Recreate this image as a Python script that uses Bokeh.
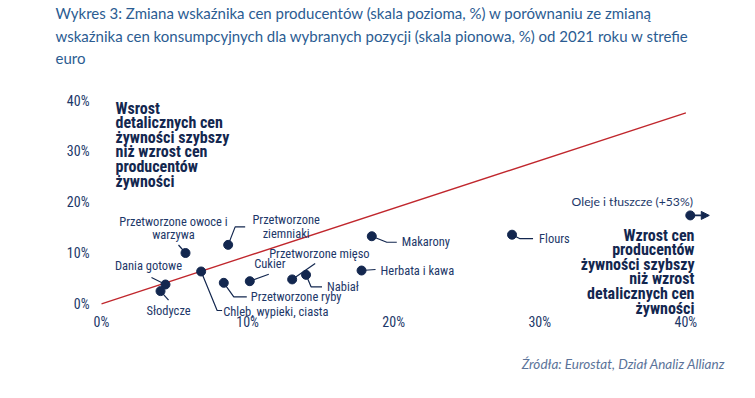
from bokeh.plotting import figure
from bokeh.layouts import column
from bokeh.models import ColumnDataSource, FixedTicker, Arrow, NormalHead
from bokeh.core.properties import value
from bokeh.embed import file_html
from bokeh.resources import INLINE

# ---------------- data ----------------
categories = ["Przetworzone owoce i warzywa", "Przetworzone ziemniaki", "Dania gotowe",
              "Słodycze", "Chleb, wypieki, ciasta", "Przetworzone ryby", "Cukier",
              "Przetworzone mięso", "Nabiał", "Makarony", "Herbata i kawa", "Flours",
              "Oleje i tłuszcze (+53%)"]
display_labels = ["Przetworzone owoce i\nwarzywa", "Przetworzone\nziemniaki", "Dania gotowe",
                  "Słodycze", "Chleb, wypieki, ciasta", "Przetworzone ryby", "Cukier",
                  "Przetworzone mięso", "Nabiał", "Makarony", "Herbata i kawa", "Flours",
                  "Oleje i tłuszcze (+53%)"]
producer_change = [5.75, 8.67, 4.38, 4.04, 6.82, 8.37, 10.15, 13.05, 14.0, 18.5, 17.8, 28.1, 40.3]
consumer_change = [10.0, 11.6, 3.8, 2.5, 6.36, 4.13, 4.45, 4.8, 5.7, 13.3, 6.55, 13.6, 17.4]

x_tick_values = [0, 10, 20, 30, 40]
x_tick_labels = ["0%", "10%", "20%", "30%", "40%"]
y_tick_values = [0, 10, 20, 30, 40]
y_tick_labels = ["0%", "10%", "20%", "30%", "40%"]

ref_line_x = [0, 40]
ref_line_y = [0, 37.6]

title_lines = ["Wykres 3: Zmiana wskaźnika cen producentów (skala pozioma, %) w porównaniu ze zmianą",
               "wskaźnika cen konsumpcyjnych dla wybranych pozycji (skala pionowa, %) od 2021 roku w strefie",
               "euro"]
source_text = "Źródła: Eurostat, Dział Analiz Allianz"
note_left = "Wsrost\ndetalicznych cen\nżywności szybszy\nniż wzrost cen\nproducentów\nżywności"
note_right = "Wzrost cen\nproducentów\nżywności szybszy\nniż wzrost\ndetalicznych cen\nżywności"

# ---------------- layout / style ----------------
NAVY = "#13274f"
TEXT = "#1d3869"
RED = "#c0272d"
TITLE_C = "#2b5c92"
NARROW = "'Roboto Condensed', 'Liberation Sans Narrow', Roboto, sans-serif"

W, H = 739, 382
TOP = 88            # title strip height
FRAME_H = 230       # chart frame height
MB = 22             # room for the x tick labels
BOT = H - TOP - FRAME_H - MB   # source strip height
ML, MR = 50, 5
PX_X = 14.61   # pixels per 1 % on x
PX_Y = 5.08    # pixels per 1 % on y
ZX, ZY = 101, 303.3   # page pixel position of the 0 % ticks
x0 = (ML - ZX) / PX_X
x1 = x0 + (W - ML - MR) / PX_X
y0 = -((TOP + FRAME_H) - ZY) / PX_Y
y1 = y0 + FRAME_H / PX_Y


def dx_(px):
    return (px - ZX) / PX_X


def dy_(py):
    return (ZY - py) / PX_Y


# label offsets in screen px (dx right, dy down), alignment, leader polyline offsets
label_dx = [-12, 58, -17, 8, 22, 27, 20, -23, 21, 30, 19, 27, -58]
label_dy = [-25, -18, -19, 19, 40, 14, -18, -26, 12, 5, 0, 4, -14]
label_align = ["center", "center", "center", "center", "left", "left", "center", "left",
               "left", "left", "left", "left", "center"]
leaders = [
    [(0, 0), (-7, -8)],
    [(0, 0), (7, -18), (17, -18)],
    [(0, 0), (-14, -7)],
    [(0, 0), (8, 9)],
    [(0, 0), (16, 39), (21, 39)],
    [(0, 0), (10, 14), (23, 14)],
    [(0, 0), (19, -7)],
    [(0, 0), (23, -16)],
    [(0, 0), (5, 12), (16, 12)],
    [(0, 0), (15, 6), (25, 6)],
    [(0, 0), (14, -1)],
    [(0, 0), (8, 4), (21, 4)],
    None,
]


def strip(height):
    f = figure(width=W, height=height, output_backend="svg", toolbar_location=None,
               x_range=(ML, W - MR), y_range=(height, 0),
               x_axis_location=None, y_axis_location=None,
               min_border_left=ML, min_border_right=MR, min_border_top=0, min_border_bottom=0)
    f.outline_line_color = None
    f.grid.visible = False
    return f


# ---------------- title strip ----------------
tf = strip(TOP)
tf.text(x=[55] * len(title_lines), y=[12.5 + 22.5 * i for i in range(len(title_lines))],
        text=title_lines, text_align="left", text_baseline="middle",
        text_font=value("Lato"), text_font_size="15px", text_color=TITLE_C)

# ---------------- main chart ----------------
p = figure(width=W, height=FRAME_H + MB, output_backend="svg", toolbar_location=None,
           x_range=(x0, x1), y_range=(y0, y1),
           min_border_left=ML, min_border_right=MR, min_border_top=0, min_border_bottom=MB)
p.outline_line_color = None
p.grid.visible = False
p.background_fill_color = "white"
p.border_fill_color = "white"

for ax, vals, labs in ((p.xaxis[0], x_tick_values, x_tick_labels),
                       (p.yaxis[0], y_tick_values, y_tick_labels)):
    ax.ticker = FixedTicker(ticks=vals)
    ax.major_label_overrides = {v: l for v, l in zip(vals, labs)}
    ax.axis_line_color = None
    ax.major_tick_line_color = None
    ax.minor_tick_line_color = None
    ax.major_tick_out = 0
    ax.major_tick_in = 0
    ax.major_label_text_font = NARROW
    ax.major_label_text_font_size = "14px"
    ax.major_label_text_color = TEXT
p.yaxis[0].major_label_standoff = ML - 89
p.xaxis[0].major_label_standoff = -5

# reference line
p.line(ref_line_x, ref_line_y, line_color=RED, line_width=1.4)

# leader lines
lx, ly = [], []
for xv, yv, ld in zip(producer_change, consumer_change, leaders):
    if ld is None:
        continue
    lx.append([xv + dx / PX_X for dx, dy in ld])
    ly.append([yv - dy / PX_Y for dx, dy in ld])
p.multi_line(lx, ly, line_color=NAVY, line_width=1.2)

# arrow for off-scale point
p.add_layout(Arrow(end=NormalHead(size=8, fill_color=NAVY, line_color=NAVY),
                   x_start=producer_change[-1], y_start=consumer_change[-1],
                   x_end=producer_change[-1] + 19 / PX_X, y_end=consumer_change[-1],
                   line_color=NAVY, line_width=1.6))

src = ColumnDataSource(dict(x=producer_change, y=consumer_change, name=categories,
                            label=display_labels, dx=label_dx, dy=label_dy, align=label_align))
p.scatter("x", "y", source=src, size=9, fill_color=NAVY, line_color=NAVY)

main = ColumnDataSource({k: v[:-1] for k, v in src.data.items()})
p.text("x", "y", text="label", source=main, x_offset="dx", y_offset="dy",
       text_align="align", text_baseline="middle",
       text_font=value(NARROW), text_font_size="12.5px", text_color=TEXT, text_line_height=0.93)

last = ColumnDataSource({k: v[-1:] for k, v in src.data.items()})
p.text("x", "y", text="label", source=last, x_offset="dx", y_offset="dy",
       text_align="center", text_baseline="middle",
       text_font=value("Lato"), text_font_size="12.2px", text_color=TEXT)

# quadrant notes
p.text(x=[dx_(115)], y=[dy_(98)], text=[note_left],
       text_align="left", text_baseline="top", text_font=value(NARROW),
       text_font_size="16px", text_font_style="bold", text_color=NAVY, text_line_height=0.77)
p.text(x=[dx_(694)], y=[dy_(225)], text=[note_right],
       text_align="right", text_baseline="top", text_font=value(NARROW),
       text_font_size="16px", text_font_style="bold", text_color=NAVY, text_line_height=0.77)

# ---------------- source strip ----------------
sf = strip(BOT)
sf.text(x=[725], y=[363 - (TOP + FRAME_H + MB)], text=[source_text],
        text_align="right", text_baseline="middle", text_font=value("Lato"),
        text_font_size="13.5px", text_font_style="italic", text_color="#5b7399")

layout = column(tf, p, sf, spacing=0)
open("out.html", "w").write(file_html(layout, INLINE))
